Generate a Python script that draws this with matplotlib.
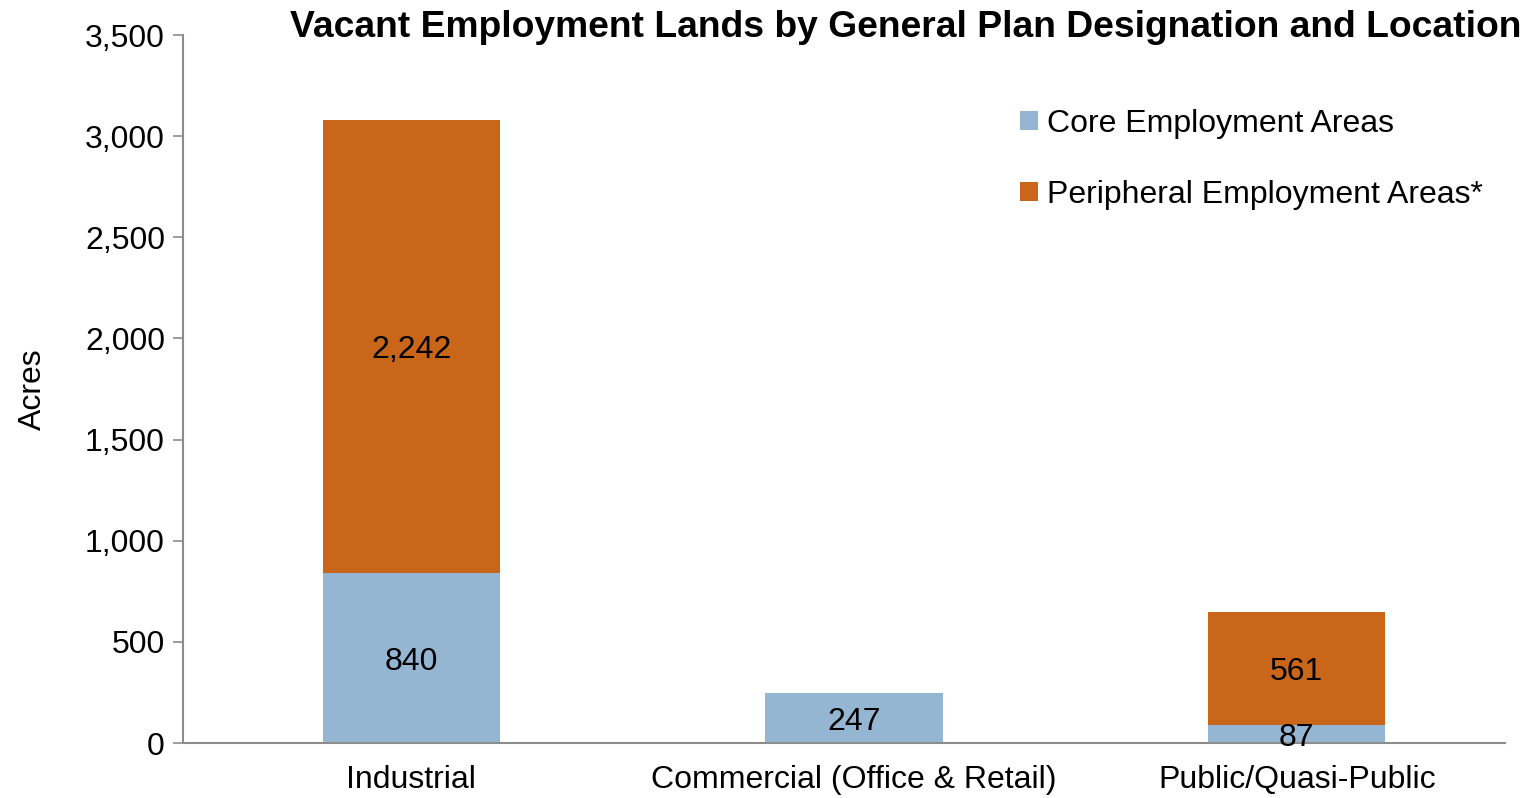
import matplotlib.pyplot as plt
import numpy as np

plt.rcParams['font.family'] = ['Liberation Sans', 'DejaVu Sans']

# acres of vacant land per designation
categories = ['Industrial', 'Commercial (Office & Retail)', 'Public/Quasi-Public']
core = [840, 247, 87]
peripheral = [2242, 0, 561]
series_names = ['Core Employment Areas', 'Peripheral Employment Areas*']
yticks = [0, 500, 1000, 1500, 2000, 2500, 3000, 3500]

blue = '#95B6D3'
orange = '#CA6619'
gray = '#8C8C8C'
fs = 23

fig = plt.figure(figsize=(15.33, 7.98), dpi=100)
ax = fig.add_axes([0.1194, 0.0689, 0.8623, 0.8872])

x = np.arange(len(categories))
w = 0.40
ax.bar(x, core, w, color=blue, label=series_names[0])
ax.bar(x, peripheral, w, bottom=core, color=orange, label=series_names[1])

# value labels centred in each segment, skip empty ones
for i in range(len(categories)):
    if core[i] > 0:
        ax.text(x[i], core[i] / 2, format(core[i], ','), ha='center',
                va='center_baseline', fontsize=fs, color='black')
    if peripheral[i] > 0:
        ax.text(x[i], core[i] + peripheral[i] / 2, format(peripheral[i], ','),
                ha='center', va='center_baseline', fontsize=fs, color='black')

ax.set_xlim(-0.515, 2.47)
ax.set_ylim(0, 3500)
ax.set_yticks(yticks)
ax.set_yticklabels([format(v, ',') for v in yticks], fontsize=fs)
ax.set_xticks(x)
ax.set_xticklabels(categories, fontsize=fs)
ax.tick_params(axis='x', length=0, pad=16)
ax.tick_params(axis='y', length=7, width=1.2, color=gray, pad=6)

for s in ['top', 'right']:
    ax.spines[s].set_visible(False)
for s in ['left', 'bottom']:
    ax.spines[s].set_color(gray)
    ax.spines[s].set_linewidth(1.5)

ax.set_ylabel('Acres', fontsize=fs, labelpad=27)

fig.text(0.5905, 0.965, 'Vacant Employment Lands by General Plan Designation and Location',
         ha='center', va='center', fontsize=26.8, fontweight='bold')

fig.legend(loc='upper left', bbox_to_anchor=(0.6654, 0.864), frameon=False, fontsize=fs,
           handlelength=0.55, handleheight=0.55, handletextpad=0.3, labelspacing=1.3,
           borderpad=0, borderaxespad=0)

plt.savefig('out.png', dpi=100)
